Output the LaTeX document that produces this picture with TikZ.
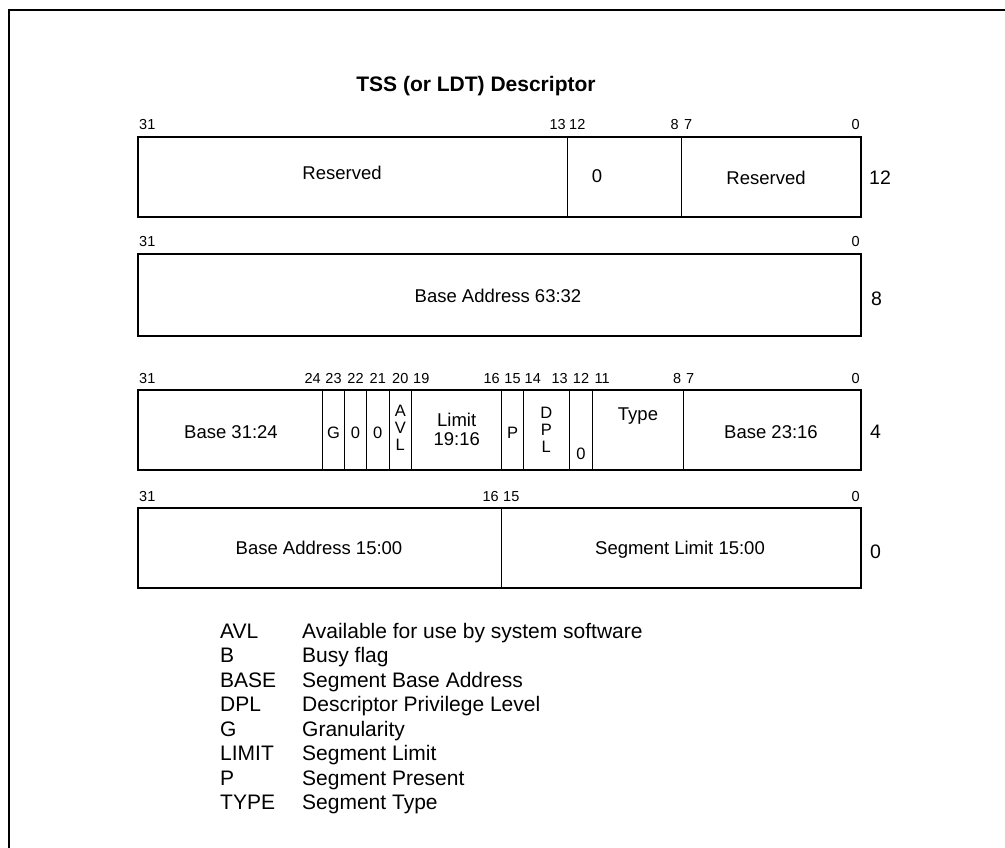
\documentclass[tikz,border=0pt]{standalone}
\usepackage{fontspec}
\setmainfont{Liberation Sans}
\begin{document}
\begin{tikzpicture}[x=1pt,y=-1pt,
 outer/.style={line width=2.3pt},
 inner/.style={line width=1pt},
 bit/.style={font=\fontsize{14.5}{15}\selectfont, inner sep=0pt},
 bitl/.style={bit, anchor=base west},
 bitr/.style={bit, anchor=base east},
 bitc/.style={bit, anchor=base},
 lbl/.style={font=\fontsize{18.5}{19}\selectfont, inner sep=0pt, align=center},
 sm/.style={lbl, font=\fontsize{16.5}{17}\selectfont},
 side/.style={font=\fontsize{19.5}{20}\selectfont, inner sep=0pt, anchor=west},
 leg/.style={font=\fontsize{21}{21}\selectfont, inner sep=0pt, anchor=base west}]
\useasboundingbox (0,0) rectangle (1005,848);
\draw[line width=2.2pt] (9,848) -- (9,10) -- (1005,10);

\node[font=\bfseries\fontsize{21}{22}\selectfont, inner sep=0pt] (title) at (476,86) {TSS (or LDT) Descriptor};

% ---- word 12
\draw[inner] (567,137) -- (567,217) (681,137) -- (681,217);
\draw[outer] (138,137) rectangle (861,217);
\node[bitl] (a31) at (139,130) {31};
\node[bitr] (a13) at (566,130) {13};
\node[bitl] (a12) at (569,130) {12};
\node[bitr] (a8) at (679,130) {8};
\node[bitl] (a7) at (684,130) {7};
\node[bitr] (a0) at (860,130) {0};
\node[lbl] (res1) at (342,173) {Reserved};
\node[lbl] (zero1) at (597,176) {0};
\node[lbl] (res2) at (766,178) {Reserved};
\node[side] (s12) at (869,178) {12};

% ---- word 8
\draw[outer] (138,254) rectangle (861,336);
\node[bitl] (b31) at (139,247) {31};
\node[bitr] (b0) at (860,247) {0};
\node[lbl] (base6332) at (498,296) {Base Address 63:32};
\node[side] (s8) at (871,299) {8};

% ---- word 4
\foreach \x in {322.7,344.3,366.7,389,411.7,501.7,523.3,569.3,592.7,683.3}
  \draw[inner] (\x,390) -- (\x,470);
\draw[outer] (138,390) rectangle (861,470);
\node[bitl] (c31) at (139,383) {31};
\node[bitr] (c24) at (321,383) {24};
\node[bitc] (c23) at (333.5,383) {23};
\node[bitc] (c22) at (355.5,383) {22};
\node[bitc] (c21) at (377.8,383) {21};
\node[bitc] (c20) at (400.3,383) {20};
\node[bitl] (c19) at (413,383) {19};
\node[bitr] (c16) at (500,383) {16};
\node[bitc] (c15) at (512.5,383) {15};
\node[bitl] (c14) at (524.5,383) {14};
\node[bitr] (c13) at (568,383) {13};
\node[bitc] (c12) at (581,383) {12};
\node[bitl] (c11) at (594.5,383) {11};
\node[bitr] (c8) at (681.5,383) {8};
\node[bitl] (c7) at (686,383) {7};
\node[bitr] (c0) at (860,383) {0};
\node[lbl] (base3124) at (231,432) {Base 31:24};
\node[sm] (g) at (333.5,433) {G};
\node[sm] (z22) at (355.5,433) {0};
\node[sm] (z21) at (377.8,433) {0};
\node[sm] (avl) at (400.3,428) {A\\V\\L};
\node[lbl] (limit) at (456.7,429) {Limit\\19:16};
\node[sm] (p) at (512.5,433) {P};
\node[sm] (dpl) at (546.3,430) {D\\P\\L};
\node[sm] (z12) at (581,454) {0};
\node[lbl] (type) at (638,416) {Type};
\node[lbl] (base2316) at (771,432) {Base 23:16};
\node[side] (s4) at (870,432) {4};

% ---- word 0
\draw[inner] (501,508) -- (501,588);
\draw[outer] (138,508) rectangle (861,588);
\node[bitl] (d31) at (139,501) {31};
\node[bitr] (d16) at (499,501) {16};
\node[bitl] (d15) at (503,501) {15};
\node[bitr] (d0) at (860,501) {0};
\node[lbl] (base1500) at (319,548) {Base Address 15:00};
\node[lbl] (lim1500) at (680,550) {Segment Limit 15:00};
\node[side] (s0) at (870,552) {0};

% ---- legend
\foreach \k/\ab [count=\i from 0] in {AVL/Available for use by system software, B/Busy flag, BASE/Segment Base Address, DPL/Descriptor Privilege Level, G/Granularity, LIMIT/Segment Limit, P/Segment Present, TYPE/Segment Type}{
  \node[leg] (ab\i) at (220,{638+24.5*\i}) {\k};
  \node[leg] (de\i) at (302,{638+24.5*\i}) {\ab};
}
\end{tikzpicture}
\end{document}
